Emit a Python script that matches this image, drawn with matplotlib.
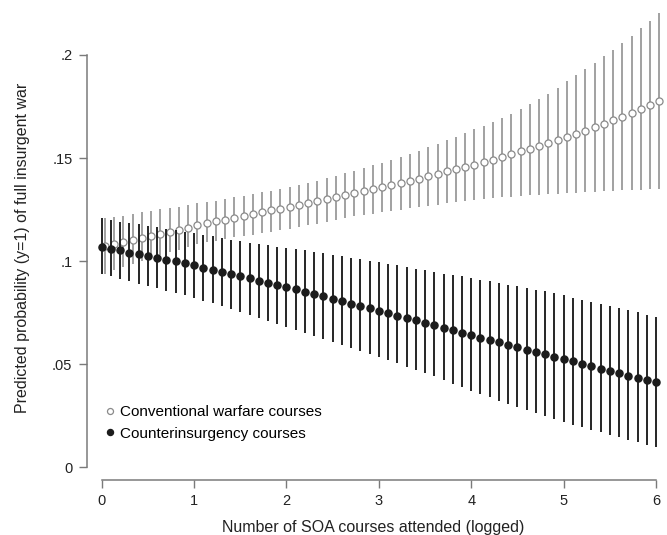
import numpy as np
import matplotlib.pyplot as plt

plt.rcParams['font.family'] = ['Liberation Sans', 'DejaVu Sans']

# logged number of SOA courses, 0 to 6 in steps of 0.1
courses = np.linspace(0, 6, 61)

# conventional warfare courses: predicted probability and 95% CI
conv_mean = [0.1075, 0.1082, 0.1092, 0.1102, 0.1113, 0.1123, 0.1133, 0.1143, 0.1153, 0.1163,
             0.1174, 0.1185, 0.1194, 0.1202, 0.1210, 0.1220, 0.1229, 0.1237, 0.1246, 0.1255,
             0.1265, 0.1274, 0.1284, 0.1294, 0.1303, 0.1313, 0.1323, 0.1333, 0.1341, 0.1349,
             0.1358, 0.1370, 0.1381, 0.1391, 0.1400, 0.1411, 0.1423, 0.1436, 0.1447, 0.1458,
             0.1468, 0.1479, 0.1492, 0.1503, 0.1518, 0.1532, 0.1546, 0.1559, 0.1572, 0.1589,
             0.1604, 0.1618, 0.1633, 0.1649, 0.1665, 0.1683, 0.1701, 0.1720, 0.1740, 0.1758,
             0.1778]
conv_hi = [0.1207, 0.1213, 0.1221, 0.1229, 0.1238, 0.1245, 0.1251, 0.1258, 0.1264, 0.1274,
           0.1282, 0.1287, 0.1294, 0.1302, 0.1310, 0.1318, 0.1326, 0.1335, 0.1342, 0.1349,
           0.1359, 0.1368, 0.1379, 0.1389, 0.1401, 0.1413, 0.1428, 0.1439, 0.1452, 0.1467,
           0.1476, 0.1491, 0.1507, 0.1520, 0.1536, 0.1552, 0.1570, 0.1587, 0.1604, 0.1622,
           0.1639, 0.1656, 0.1675, 0.1693, 0.1716, 0.1737, 0.1760, 0.1785, 0.1812, 0.1842,
           0.1873, 0.1903, 0.1933, 0.1962, 0.1994, 0.2025, 0.2059, 0.2093, 0.2130, 0.2165,
           0.2202]
conv_lo = [0.0940, 0.0957, 0.0972, 0.0988, 0.1002, 0.1016, 0.1030, 0.1043, 0.1056, 0.1069,
           0.1081, 0.1092, 0.1098, 0.1107, 0.1115, 0.1123, 0.1129, 0.1136, 0.1141, 0.1149,
           0.1156, 0.1164, 0.1173, 0.1182, 0.1192, 0.1201, 0.1209, 0.1217, 0.1224, 0.1231,
           0.1238, 0.1244, 0.1250, 0.1256, 0.1262, 0.1268, 0.1274, 0.1280, 0.1285, 0.1290,
           0.1295, 0.1300, 0.1305, 0.1309, 0.1313, 0.1317, 0.1319, 0.1322, 0.1325, 0.1327,
           0.1329, 0.1333, 0.1336, 0.1337, 0.1339, 0.1342, 0.1344, 0.1346, 0.1347, 0.1349,
           0.1350]

# counterinsurgency courses
coin_mean = [0.1071, 0.1060, 0.1052, 0.1042, 0.1034, 0.1026, 0.1015, 0.1007, 0.0999, 0.0989,
             0.0979, 0.0968, 0.0959, 0.0949, 0.0937, 0.0926, 0.0916, 0.0905, 0.0895, 0.0884,
             0.0873, 0.0863, 0.0852, 0.0842, 0.0830, 0.0817, 0.0805, 0.0794, 0.0782, 0.0771,
             0.0758, 0.0748, 0.0736, 0.0724, 0.0713, 0.0702, 0.0690, 0.0678, 0.0665, 0.0653,
             0.0640, 0.0629, 0.0618, 0.0606, 0.0593, 0.0582, 0.0571, 0.0560, 0.0548, 0.0535,
             0.0525, 0.0514, 0.0502, 0.0491, 0.0479, 0.0467, 0.0456, 0.0445, 0.0435, 0.0424,
             0.0413]
coin_hi = [0.1208, 0.1202, 0.1192, 0.1186, 0.1179, 0.1171, 0.1165, 0.1157, 0.1150, 0.1142,
           0.1135, 0.1128, 0.1120, 0.1110, 0.1102, 0.1096, 0.1090, 0.1084, 0.1077, 0.1071,
           0.1065, 0.1058, 0.1052, 0.1045, 0.1038, 0.1030, 0.1023, 0.1016, 0.1010, 0.1002,
           0.0995, 0.0987, 0.0979, 0.0971, 0.0963, 0.0955, 0.0947, 0.0940, 0.0934, 0.0926,
           0.0918, 0.0910, 0.0902, 0.0894, 0.0886, 0.0878, 0.0869, 0.0862, 0.0853, 0.0844,
           0.0834, 0.0823, 0.0813, 0.0802, 0.0792, 0.0782, 0.0771, 0.0761, 0.0751, 0.0741,
           0.0730]
coin_lo = [0.0939, 0.0926, 0.0913, 0.0902, 0.0891, 0.0879, 0.0868, 0.0857, 0.0847, 0.0834,
           0.0822, 0.0808, 0.0796, 0.0782, 0.0767, 0.0753, 0.0740, 0.0726, 0.0711, 0.0696,
           0.0682, 0.0667, 0.0653, 0.0638, 0.0623, 0.0608, 0.0593, 0.0578, 0.0564, 0.0549,
           0.0534, 0.0519, 0.0504, 0.0489, 0.0474, 0.0458, 0.0441, 0.0424, 0.0404, 0.0388,
           0.0371, 0.0355, 0.0339, 0.0324, 0.0308, 0.0293, 0.0277, 0.0263, 0.0248, 0.0234,
           0.0219, 0.0207, 0.0194, 0.0181, 0.0169, 0.0156, 0.0145, 0.0132, 0.0121, 0.0109,
           0.0097]

xticks = [0, 1, 2, 3, 4, 5, 6]
yticks = [0, 0.05, 0.1, 0.15, 0.2]
yticklabels = ['0', '.05', '.1', '.15', '.2']

axis_grey = '#7a7a7a'
dark = '#1c1c1c'
light = '#9a9a9a'

fig = plt.figure(figsize=(6.67, 5.35), dpi=100)
ax = fig.add_axes([0.1525, 0.1265, 0.831, 0.7707])

# conventional drawn slightly to the right, as in the original
cx = courses + 0.035
ax.vlines(cx, conv_lo, conv_hi, colors=light, lw=1.3, clip_on=False, zorder=2)
conv_pts, = ax.plot(cx, conv_mean, 'o', ms=5.1, mfc='white', mec='#8a8a8a', mew=0.9,
                    clip_on=False, zorder=3, label='Conventional warfare courses')
ax.vlines(courses, coin_lo, coin_hi, colors=dark, lw=1.35, clip_on=False, zorder=4)
coin_pts, = ax.plot(courses, coin_mean, 'o', ms=5.1, color=dark, clip_on=False, zorder=5,
                    label='Counterinsurgency courses')

ax.set_xlim(0, 6)
ax.set_ylim(0, 0.2)

for s in ['top', 'right']:
    ax.spines[s].set_visible(False)
ax.spines['left'].set_position(('outward', 10.6))
ax.spines['bottom'].set_position(('outward', 9.1))
ax.spines['left'].set_bounds(0, 0.2)
ax.spines['bottom'].set_bounds(0, 6)
for s in ['left', 'bottom']:
    ax.spines[s].set_color(axis_grey)
    ax.spines[s].set_linewidth(1.1)

ax.set_xticks(xticks)
ax.set_yticks(yticks)
ax.set_yticklabels(yticklabels)
ax.tick_params(axis='both', direction='out', length=6, width=1.0, color=axis_grey,
               labelsize=10.5, labelcolor='#222222')
ax.tick_params(axis='y', pad=4.5)
ax.tick_params(axis='x', pad=4)

ax.set_xlabel('Number of SOA courses attended (logged)', fontsize=11.5, color='#222222')
ax.set_ylabel('Predicted probability (y=1) of full insurgent war', fontsize=11.5, color='#222222')
ax.xaxis.set_label_coords(0.4895, -0.147)
ax.yaxis.set_label_coords(-0.1438, 0.532)
ax.xaxis.label.set_va('center')
ax.yaxis.label.set_va('center')

ax.legend(handles=[conv_pts, coin_pts], loc='center left', bbox_to_anchor=(0.007, 0.108),
          frameon=False, fontsize=11, handlelength=0.6, handletextpad=0.32,
          borderpad=0, borderaxespad=0, labelspacing=0.5, markerscale=0.85)

fig.savefig('out.png', dpi=100)
